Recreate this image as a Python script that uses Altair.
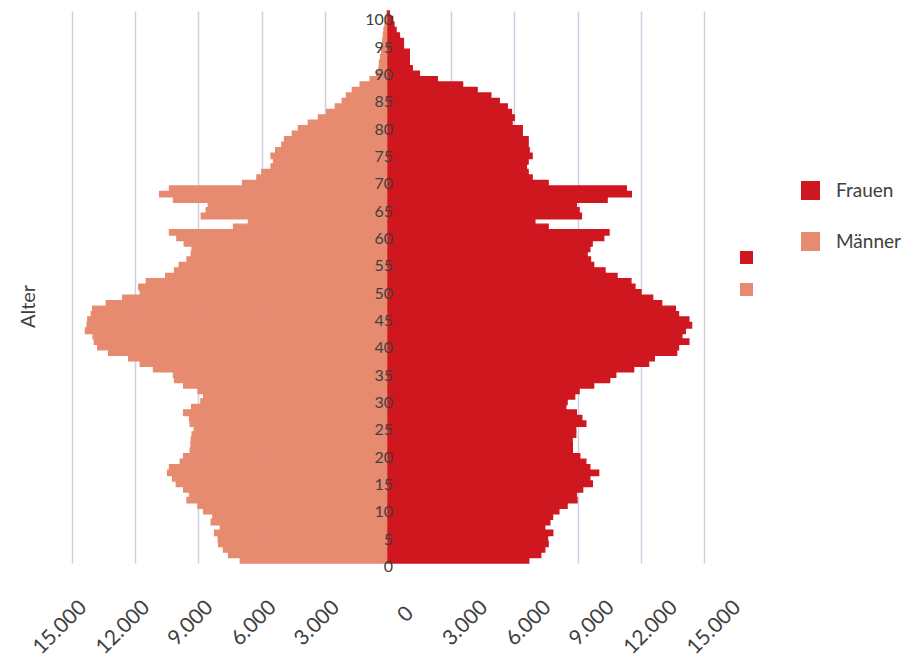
import altair as alt
import pandas as pd

# ---- data ----
ages = list(range(0, 101))
maenner = [
    7010, 7570, 7810, 8040, 8060, 8230, 7960, 8390, 8310, 8750,
    9020, 9540, 9420, 9700, 10050, 10220, 10460, 10370, 9860, 9700,
    9390, 9350, 9340, 9300, 9200, 9390, 9420, 9700, 9320, 8880,
    8750, 9020, 9700, 10130, 10180, 11130, 11760, 12310, 13260, 13780,
    13940, 14000, 14360, 14280, 14250, 14080, 14020, 13370, 12590, 11760,
    11830, 11470, 10550, 10130, 9910, 9540, 9340, 9300, 9670, 10020,
    10370, 7330, 6620, 8860, 8630, 8530, 10180, 10840, 10370, 6900,
    6220, 5990, 5550, 5430, 5550, 5330, 5040, 4910, 4540, 4250,
    3780, 3300, 2910, 2500, 2170, 1970, 1690, 1320, 850, 540,
    420, 400, 350, 300, 290, 250, 220, 190, 140, 95,
    50,
]
frauen = [
    6680, 7250, 7440, 7600, 7570, 7820, 7440, 7680, 7810, 8110,
    8500, 8970, 8940, 9240, 9700, 9580, 10000, 9580, 9390, 9100,
    8750, 8750, 8740, 8910, 8910, 9390, 9200, 8940, 8440, 8500,
    8860, 9070, 9760, 10520, 10810, 11660, 12370, 12640, 13700, 13790,
    14280, 13950, 14110, 14410, 14280, 13790, 13640, 12990, 12560, 12010,
    11720, 11530, 10870, 10300, 9760, 9610, 9450, 9580, 9690, 10240,
    10490, 7600, 6970, 9180, 9070, 8940, 10400, 11550, 11310, 7600,
    6840, 6650, 6570, 6650, 6840, 6700, 6650, 6650, 6370, 6370,
    5890, 5990, 5860, 5660, 5280, 4880, 4230, 3540, 2340, 1490,
    1150, 1010, 1010, 1010, 730, 730, 540, 380, 280, 220,
    60,
]
series = ["Frauen", "Männer"]
tick_values = [-15000, -12000, -9000, -6000, -3000, 0, 3000, 6000, 9000, 12000, 15000]
age_labels = list(range(0, 101, 5))

RED = "#CF171F"
SALMON = "#E68B70"
TEXT = "#404040"
GRID = "#CDD0E2"

rows = []
for a, m, f in zip(ages, maenner, frauen):
    rows.append({"age": a, "age_end": a + 1, "sex": "Männer", "sex2": "Männer", "start": -m, "end": 0})
    rows.append({"age": a, "age_end": a + 1, "sex": "Frauen", "sex2": "Frauen", "start": 0, "end": f})
df = pd.DataFrame(rows)
label_df = pd.DataFrame({"age": age_labels})

x_scale = alt.Scale(domain=[-15000, 15000], nice=False, zero=False)
y_scale = alt.Scale(domain=[0, 101], nice=False, zero=False)
col_scale = alt.Scale(domain=series, range=[RED, SALMON])

x_axis = alt.Axis(
    values=tick_values,
    labelExpr="replace(format(abs(datum.value), ',d'), ',', '.')",
    grid=True,
    gridColor=GRID,
    gridWidth=1.5,
    domain=False,
    ticks=False,
    labelAngle=-45,
    labelAlign="right",
    labelBaseline="middle",
    labelFontSize=21,
    labelColor=TEXT,
    labelLimit=300,
    labelOffset={
        "condition": [
            {"test": "datum.value < 0", "value": 11},
            {"test": "datum.value == 0", "value": 22},
        ],
        "value": 33,
    },
    labelPadding={"condition": {"test": "datum.value == 0", "value": 47}, "value": 41},
    labelOverlap=False,
    title=None,
)

y_axis = alt.Axis(
    title="Alter",
    labels=False,
    ticks=False,
    domain=False,
    grid=False,
    titleX=-44,
    titleY=295,
    titleBaseline="middle",
    titleFontSize=20,
    titleFontWeight="normal",
    titleColor=TEXT,
)

bars = alt.Chart(df).mark_rect(strokeWidth=1.4).encode(
    x=alt.X("start:Q", scale=x_scale, axis=x_axis),
    x2="end:Q",
    y=alt.Y("age:Q", scale=y_scale, axis=y_axis),
    y2="age_end:Q",
    stroke=alt.Stroke("sex:N", scale=col_scale, legend=None),
    color=alt.Color(
        "sex:N",
        scale=col_scale,
        legend=alt.Legend(
            title=None,
            orient="none",
            legendX=729,
            legendY=170,
            symbolType="square",
            symbolSize=361,
            symbolStrokeWidth=0,
            labelFontSize=19,
            labelColor=TEXT,
            labelOffset=16,
            rowPadding=31,
            padding=0,
        ),
    ),
)

ghost = alt.Chart(df).mark_square(size=0, opacity=0).encode(
    x=alt.X("start:Q", scale=x_scale, axis=x_axis),
    y=alt.Y("age:Q", scale=y_scale, axis=y_axis),
    fill=alt.Fill(
        "sex2:N",
        scale=col_scale,
        legend=alt.Legend(
            title=None,
            orient="none",
            legendX=668,
            legendY=240,
            symbolType="square",
            symbolSize=169,
            symbolOpacity=1,
            symbolStrokeWidth=0,
            labelExpr="''",
            labelFontSize=12,
            rowPadding=19,
            padding=0,
        ),
    ),
)

age_text = alt.Chart(label_df).mark_text(
    align="right", baseline="middle", dx=5, dy=4, fontSize=16, color=TEXT
).encode(
    x=alt.datum(0, scale=x_scale),
    y=alt.Y("age:Q", scale=y_scale, axis=y_axis),
    text="age:Q",
)

chart = alt.layer(bars, ghost, age_text).resolve_legend(
    color="independent", fill="independent"
).properties(
    width=632,
    height=552,
    autosize=alt.AutoSizeParams(type="none"),
    padding={"left": 64, "top": 3, "right": 203, "bottom": 100},
).configure(
    font="Lato",
).configure_view(stroke=None)

chart.save("out.html", embed_options={"renderer": "svg", "actions": False})
